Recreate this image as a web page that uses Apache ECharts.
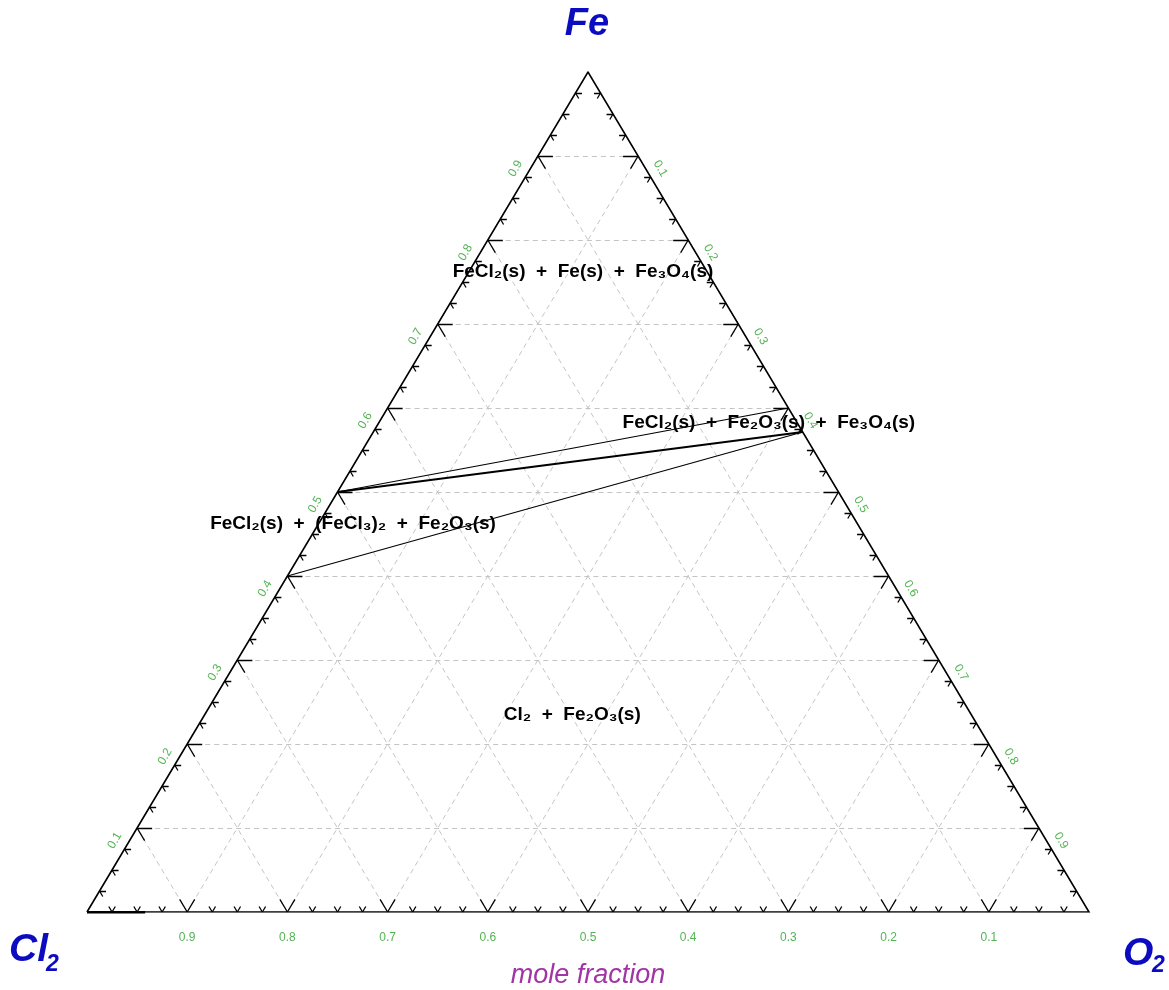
<!DOCTYPE html>
<html>
<head>
<meta charset="utf-8">
<script src="https://cdn.jsdelivr.net/npm/echarts@6/dist/echarts.min.js"></script>
<style>
html, body { margin: 0; padding: 0; background: #fff; }
#chart { width: 1169px; height: 990px; }
</style>
</head>
<body>
<div id="chart"></div>
<script>
// compositions are [Fe, O2] mole fractions, Cl2 = 1 - Fe - O2
var majorTicks = [0.1, 0.2, 0.3, 0.4, 0.5, 0.6, 0.7, 0.8, 0.9];
var tickLabels = ['0.1', '0.2', '0.3', '0.4', '0.5', '0.6', '0.7', '0.8', '0.9'];
var minorTicks = [0.025, 0.05, 0.075, 0.125, 0.15, 0.175, 0.225, 0.25, 0.275, 0.325, 0.35, 0.375,
  0.425, 0.45, 0.475, 0.525, 0.55, 0.575, 0.625, 0.65, 0.675, 0.725, 0.75, 0.775,
  0.825, 0.85, 0.875, 0.925, 0.95, 0.975];

var compounds = {
  FeCl2: [0.5, 0],
  FeCl3: [0.4, 0],
  Fe2O3: [0.5714, 0.4286],
  Fe3O4: [0.6, 0.4]
};
var tieLines = [['FeCl2', 'Fe3O4'], ['FeCl3', 'Fe2O3']];
var heavyTieLines = [['FeCl2', 'Fe2O3']];
var clEdgeSegment = [[0, 0], [0, 0.058]];

var regionText = [
  'FeCl₂(s)  +  Fe(s)  +  Fe₃O₄(s)',
  'FeCl₂(s)  +  Fe₂O₃(s)  +  Fe₃O₄(s)',
  'FeCl₂(s)  +  (FeCl₃)₂  +  Fe₂O₃(s)',
  'Cl₂  +  Fe₂O₃(s)'
];
var regionAt = [[0.762, 0.114], [0.583, 0.389], [0.462, 0.0345], [0.2345, 0.367]];

// ternary -> cartesian (x along Cl2 -> O2 edge, y = Fe fraction)
function xy(fe, o2) { return [o2 + fe / 2, fe]; }

// dashed grid
var gridLines = [];
majorTicks.forEach(function (v) {
  gridLines.push({ coords: [xy(v, 0), xy(v, 1 - v)] });       // const Fe
  gridLines.push({ coords: [xy(0, v), xy(1 - v, v)] });       // const O2
  gridLines.push({ coords: [xy(0, 1 - v), xy(1 - v, 0)] });   // const Cl2
});

// arrow-like ticks on the three edges
function edgeTicks(vals, d) {
  var out = [];
  vals.forEach(function (v) {
    // bottom edge (Fe = 0, O2 = v)
    out.push({ coords: [xy(0, v), xy(d, v)] });
    out.push({ coords: [xy(0, v), xy(d, v - d)] });
    // left edge (O2 = 0, Fe = v)
    out.push({ coords: [xy(v, 0), xy(v, d)] });
    out.push({ coords: [xy(v, 0), xy(v - d, d)] });
    // right edge (Cl2 = 0, Fe = v)
    out.push({ coords: [xy(v, 1 - v), xy(v, 1 - v - d)] });
    out.push({ coords: [xy(v, 1 - v), xy(v - d, 1 - v)] });
  });
  return out;
}
var tickSegs = edgeTicks(majorTicks, 0.015).concat(edgeTicks(minorTicks, 0.0065));

function pairCoords(list) {
  return list.map(function (p) {
    var a = compounds[p[0]], b = compounds[p[1]];
    return { coords: [xy(a[0], a[1]), xy(b[0], b[1])] };
  });
}

var tickFont = { color: '#28a028', fontSize: 12, fontFamily: 'Liberation Sans' };
function labelSeries(points, texts, rot, off) {
  return {
    type: 'scatter', symbolSize: 1, silent: true, z: 6,
    itemStyle: { color: 'rgba(0,0,0,0)' },
    label: Object.assign({
      show: true, position: 'inside', rotate: rot, offset: off,
      formatter: function (p) { return texts[p.dataIndex]; }
    }, tickFont),
    data: points
  };
}

var bigFont = 'italic bold 39px "Liberation Sans"';
var subFont = 'italic bold 23px "Liberation Sans"';
function cornerText(txt, x, y, font) {
  return { type: 'text', x: x, y: y, style: { text: txt, fill: '#0b0bbf', font: font, align: 'left', verticalAlign: 'middle' } };
}

var chart = echarts.init(document.getElementById('chart'));
var option = {
  animation: false,
  grid: { left: 87, top: 72, width: 1002, height: 840 },
  xAxis: { type: 'value', min: 0, max: 1, show: false },
  yAxis: { type: 'value', min: 0, max: 1, show: false },
  graphic: [
    { type: 'text', x: 587, y: 25, style: { text: 'Fe', fill: '#0b0bbf', font: 'italic bold 38px "Liberation Sans"', align: 'center', verticalAlign: 'middle' } },
    cornerText('Cl', 9, 950, bigFont),
    cornerText('2', 46, 965, subFont),
    cornerText('O', 1123, 954, bigFont),
    cornerText('2', 1152, 966, subFont),
    { type: 'text', x: 588, y: 975, style: { text: 'mole fraction', fill: '#a035a5', font: 'italic 27px "Liberation Sans"', align: 'center', verticalAlign: 'middle' } }
  ],
  series: [
    {
      type: 'lines', coordinateSystem: 'cartesian2d', silent: true, z: 1,
      lineStyle: { color: '#c4c4c4', width: 1, type: [5, 4], opacity: 1 },
      data: gridLines
    },
    {
      type: 'lines', coordinateSystem: 'cartesian2d', silent: true, z: 3,
      lineStyle: { color: '#000', width: 1.3, opacity: 1 },
      data: tickSegs
    },
    {
      type: 'lines', coordinateSystem: 'cartesian2d', polyline: true, silent: true, z: 4,
      lineStyle: { color: '#000', width: 1.6, opacity: 1 },
      data: [{ coords: [xy(0, 0), xy(1, 0), xy(0, 1), xy(0, 0)] }]
    },
    {
      type: 'lines', coordinateSystem: 'cartesian2d', silent: true, z: 4,
      lineStyle: { color: '#000', width: 1.2, opacity: 1 },
      data: pairCoords(tieLines)
    },
    {
      type: 'lines', coordinateSystem: 'cartesian2d', silent: true, z: 4,
      lineStyle: { color: '#000', width: 2.2, opacity: 1 },
      data: pairCoords(heavyTieLines)
    },
    {
      type: 'lines', coordinateSystem: 'cartesian2d', silent: true, z: 4,
      lineStyle: { color: '#000', width: 3, opacity: 1 },
      data: [{ coords: clEdgeSegment.map(function (p) { return xy(p[0], p[1]); }) }]
    },
    // bottom labels: Cl2 fraction
    labelSeries(majorTicks.map(function (v) { return xy(0, v); }),
      majorTicks.map(function (v, i) { return tickLabels[8 - i]; }), 0, [0, 26]),
    // left labels: Fe fraction
    labelSeries(majorTicks.map(function (v) { return xy(v, 0); }), tickLabels, 60, [-22, -13]),
    // right labels: O2 fraction
    labelSeries(majorTicks.map(function (v) { return xy(1 - v, v); }), tickLabels, -60, [22, -13]),
    {
      // phase-field names
      type: 'custom', coordinateSystem: 'cartesian2d', silent: true, z: 7,
      data: regionAt.map(function (p) { return xy(p[0], p[1]); }),
      renderItem: function (params, api) {
        var c = api.coord([api.value(0), api.value(1)]);
        return {
          type: 'text', x: c[0], y: c[1],
          style: {
            text: regionText[params.dataIndex], fill: '#000',
            font: 'bold 19px "Liberation Sans"', align: 'center', verticalAlign: 'middle'
          }
        };
      }
    }
  ]
};
chart.setOption(option);
</script>
</body>
</html>
